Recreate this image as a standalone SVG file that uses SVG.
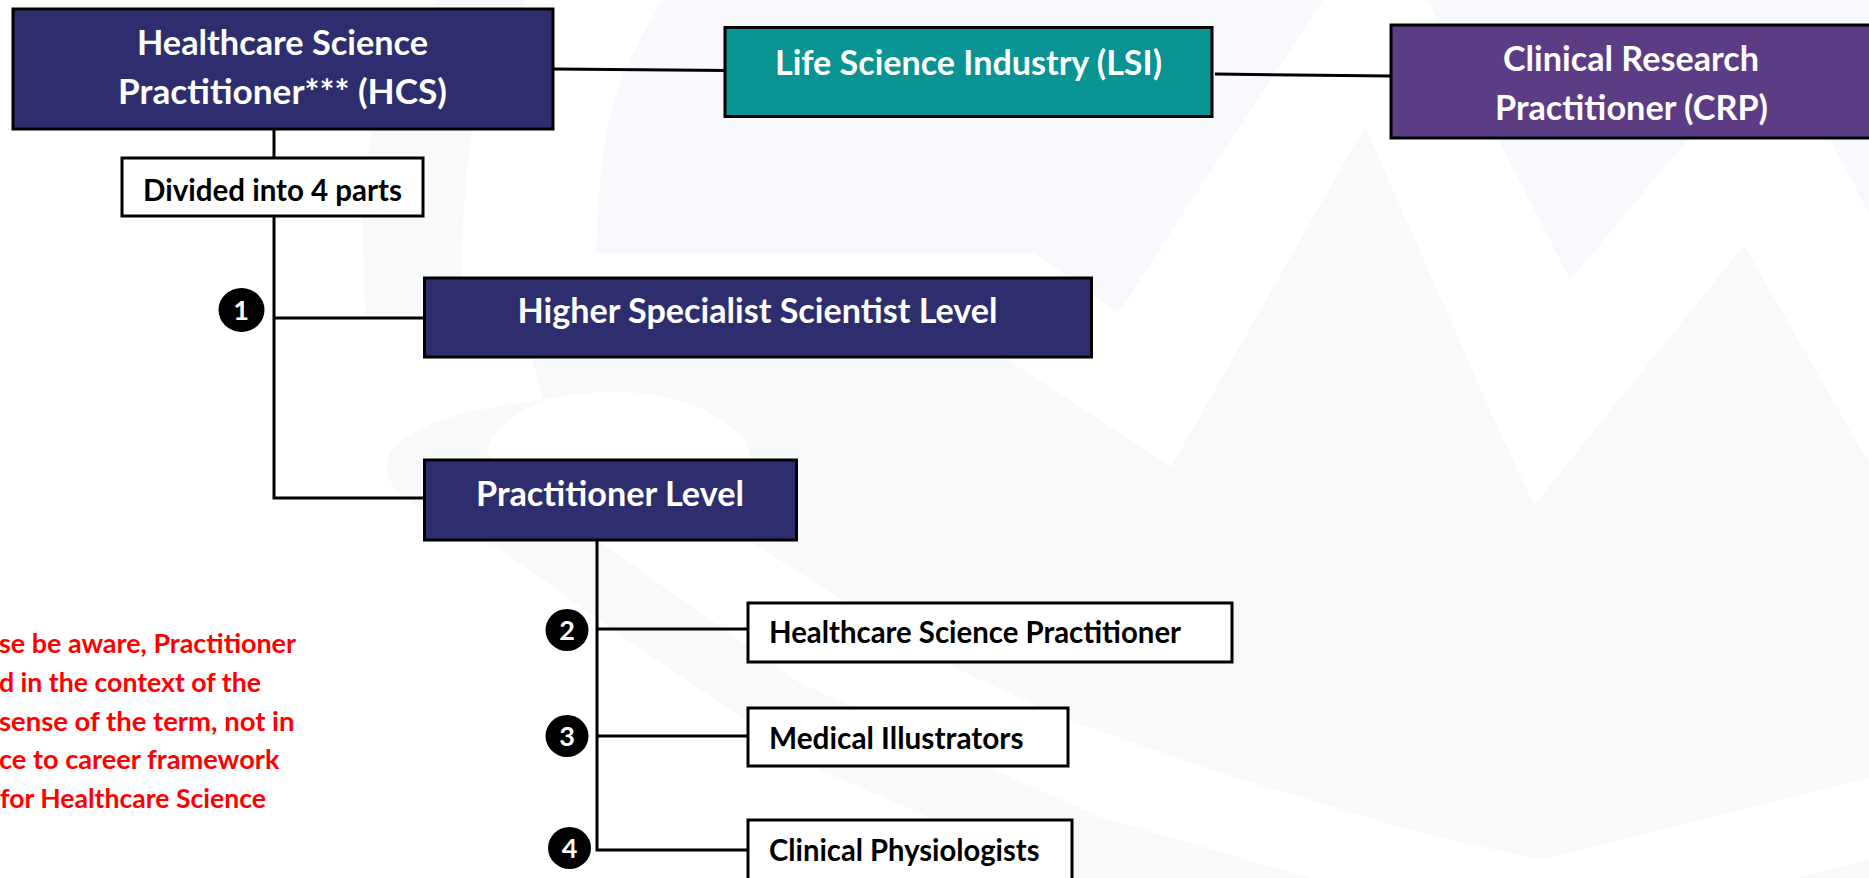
<svg xmlns="http://www.w3.org/2000/svg" width="1869" height="878" viewBox="0 0 1869 878">
<style>
text{font-family:Lato,"Open Sans","Liberation Sans",sans-serif;font-weight:700}
.box{stroke:#000;stroke-width:3}
.navy{fill:#2e2e6e}
.teal{fill:#0a9393}
.purple{fill:#5c3d85}
.plain{fill:#fff}
.t{fill:#fff;font-size:34px}
.l{fill:#000;font-size:29.500px}
.r{fill:#f00;font-size:27px}
.n{fill:#fff;font-size:27px;text-anchor:middle;font-weight:700}
.w{fill:#f8f9fb;stroke:none}
.c{fill:none;stroke:#000;stroke-width:3}
</style>
<rect width="1869" height="878" fill="#fff"/>
<g id="watermark">
<path class="w" style="fill:#f7f9fc" d="M663 0Q618 70 606 133Q597 200 596 253L1034 253L1118 313L1323 0L1427 0L1570 280L1775 36L1869 213L1869 0Z"/>
<path class="w" d="M440 0Q395 60 372 129Q362 190 363 240L365 317L540 317L462 277Q462 190 473 129Q490 70 526 0Z"/>
<path class="w" d="M528 345L985 345L1171 467L1365 126L1490 410L1534 505L1744 245L1869 463L1869 777L1560 855Q1541 862 1522 856L1400 827L1221 773L1068 720L953 667L880 625L800 573L740 535Q762 480 745 440Q700 392 613 392Q575 392 543 400Z"/>
<path class="w" d="M543 400Q450 410 410 435Q375 455 392 485Q415 515 497 547L620 635L820 770L1070 878L1310 878L1100 817L800 683L600 542Q505 490 487 450Q492 425 543 400Z"/>
<path class="w" d="M1796 878L1869 860L1869 878Z"/>
</g>
<g id="connectors">
<path class="c" d="M274 129V498H424"/>
<path class="c" d="M274 318H424"/>
<path class="c" d="M553 69L728 70.500"/>
<path class="c" d="M1215 74L1390 76"/>
<path class="c" d="M597 540V850H747"/>
<path class="c" d="M597 629H747"/>
<path class="c" d="M597 736H747"/>
</g>
<g id="hcs"><rect class="box navy" x="13" y="9" width="540" height="120"/>
<text class="t" x="137" y="55" textLength="291" lengthAdjust="spacingAndGlyphs">Healthcare Science</text>
<text class="t" x="118" y="104" textLength="329" lengthAdjust="spacingAndGlyphs">Practitioner*** (HCS)</text></g>
<g id="divided"><rect class="box plain" x="122" y="158" width="301" height="58"/>
<text class="l" x="143" y="200.500" textLength="259" lengthAdjust="spacingAndGlyphs">Divided into 4 parts</text></g>
<g id="lsi"><rect class="box teal" x="725" y="27.500" width="487" height="89"/>
<text class="t" x="775" y="74.500" textLength="387" lengthAdjust="spacingAndGlyphs">Life Science Industry (LSI)</text></g>
<g id="crp"><rect class="box purple" x="1391" y="25" width="490" height="113"/>
<text class="t" x="1503" y="71" textLength="256" lengthAdjust="spacingAndGlyphs">Clinical Research</text>
<text class="t" x="1495" y="120" textLength="273" lengthAdjust="spacingAndGlyphs">Practitioner (CRP)</text></g>
<g id="higher"><rect class="box navy" x="424.500" y="278" width="667" height="79"/>
<text class="t" x="517.500" y="323" textLength="480" lengthAdjust="spacingAndGlyphs">Higher Specialist Scientist Level</text></g>
<g id="practitioner"><rect class="box navy" x="424.500" y="460" width="372" height="80"/>
<text class="t" x="476" y="506" textLength="268" lengthAdjust="spacingAndGlyphs">Practitioner Level</text></g>
<g id="hsp"><rect class="box plain" x="748" y="603" width="484" height="59"/>
<text class="l" x="769" y="642.500" textLength="412" lengthAdjust="spacingAndGlyphs">Healthcare Science Practitioner</text></g>
<g id="illustrators"><rect class="box plain" x="748" y="708" width="320" height="58"/>
<text class="l" x="769" y="748.500" textLength="254.500" lengthAdjust="spacingAndGlyphs">Medical Illustrators</text></g>
<g id="physiologists"><rect class="box plain" x="748" y="820" width="324" height="70"/>
<text class="l" x="769" y="860.500" textLength="270.500" lengthAdjust="spacingAndGlyphs">Clinical Physiologists</text></g>
<g id="badge1"><ellipse cx="241.500" cy="310" rx="23" ry="22"/><text class="n" x="241" y="320">1</text></g>
<g id="badge2"><ellipse cx="567" cy="630" rx="21.500" ry="21"/><text class="n" x="567" y="640">2</text></g>
<g id="badge3"><ellipse cx="567" cy="736" rx="21.500" ry="21"/><text class="n" x="567" y="746">3</text></g>
<g id="badge4"><ellipse cx="569.500" cy="848" rx="21.500" ry="21"/><text class="n" x="569.500" y="858">4</text></g>
<g id="note">
<text class="r" x="-1" y="653" textLength="297" lengthAdjust="spacingAndGlyphs">se be aware, Practitioner</text>
<text class="r" x="-1" y="691.500" textLength="262" lengthAdjust="spacingAndGlyphs">d in the context of the</text>
<text class="r" x="-1" y="730.500" textLength="295.500" lengthAdjust="spacingAndGlyphs">sense of the term, not in</text>
<text class="r" x="-1" y="769" textLength="280.500" lengthAdjust="spacingAndGlyphs">ce to career framework</text>
<text class="r" x="0" y="807.500" textLength="266" lengthAdjust="spacingAndGlyphs">for Healthcare Science</text>
</g>
</svg>
